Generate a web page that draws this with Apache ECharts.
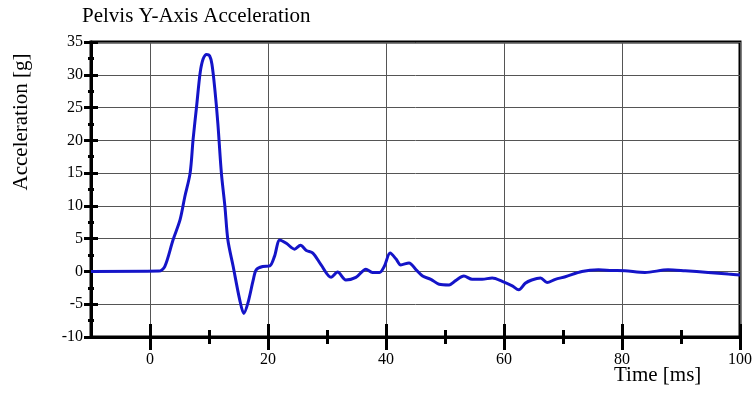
<!DOCTYPE html>
<html><head><meta charset="utf-8">
<script src="https://cdn.jsdelivr.net/npm/echarts@6/dist/echarts.min.js"></script>
<style>html,body{margin:0;padding:0;background:#fff}#c{width:755px;height:394px}</style>
</head><body><div id="c"></div>
<script>
const chartTitle = 'Pelvis Y-Axis Acceleration';
const xName = 'Time [ms]';
const yName = 'Acceleration [g]';
const times = [-10, 1.5, 2.5, 3.9, 5.1, 5.9, 6.8, 7.3, 7.9, 8.5, 9.0, 9.6, 10.1, 10.5, 11.0, 11.5, 12.1, 12.7, 13.2, 14.1, 15.2, 15.9, 16.6, 17.5, 18.0, 19.1, 20.3, 21.1, 22.0, 23.1, 24.5, 25.5, 26.5, 27.6, 29.0, 30.7, 31.8, 33.2, 34.9, 36.6, 37.7, 38.9, 39.7, 40.7, 41.7, 42.5, 43.9, 45.1, 46.2, 47.6, 49.0, 50.7, 51.8, 53.2, 54.6, 56.3, 58.0, 59.7, 61.4, 62.5, 63.6, 64.7, 66.2, 67.3, 68.7, 70.4, 73.2, 76.0, 78.3, 80.5, 83.9, 87.8, 90.7, 94.6, 98.0, 100];
const accel = [0, 0.05, 0.75, 4.8, 7.9, 11.4, 15.0, 20.1, 25.2, 30.3, 32.4, 33.1, 32.9, 31.6, 27.7, 22.6, 15.0, 9.9, 4.8, 0.75, -4.3, -6.4, -4.8, -1.3, 0.25, 0.75, 0.85, 2.3, 4.8, 4.3, 3.4, 4.0, 3.2, 2.8, 1.0, -0.9, -0.1, -1.3, -0.9, 0.35, -0.15, -0.15, 0.75, 2.8, 1.9, 1.0, 1.3, 0.25, -0.7, -1.2, -1.95, -2.05, -1.4, -0.7, -1.2, -1.2, -1.0, -1.5, -2.2, -2.8, -1.8, -1.3, -1.0, -1.7, -1.2, -0.8, 0.0, 0.25, 0.15, 0.1, -0.15, 0.25, 0.1, -0.15, -0.4, -0.55];
const xMajorTicks = [0, 20, 40, 60, 80, 100];
const xMinorTicks = [10, 30, 50, 70, 90];
const yTickStep = 5;

const serif = 'Liberation Serif, Times New Roman, serif';
const black = '#000';
const chart = echarts.init(document.getElementById('c'), null, {renderer: 'canvas'});
const xBase = {type: 'value', min: -10, max: 100, position: 'bottom', gridIndex: 0};
const yBase = {type: 'value', min: -10, max: 35, interval: yTickStep, position: 'left', gridIndex: 0};
const hiddenLine = {show: false, onZero: false};

chart.setOption({
  animation: false,
  backgroundColor: '#fff',
  title: [
    {text: chartTitle, left: 82, top: 6, padding: 0,
     textStyle: {fontFamily: serif, fontSize: 21, fontWeight: 'normal', color: black}},
    {text: xName, left: 614, top: 365, padding: 0,
     textStyle: {fontFamily: serif, fontSize: 21, fontWeight: 'normal', color: black}}
  ],
  graphic: [{
    type: 'text', x: 21, y: 122, rotation: Math.PI / 2,
    style: {text: yName, font: '21px ' + serif, fill: black, align: 'center', verticalAlign: 'middle'}
  }],
  grid: {left: 91, right: 14, top: 42, bottom: 57, show: true, borderColor: black, borderWidth: 3, backgroundColor: 'transparent'},
  xAxis: [
    Object.assign({}, xBase, {
      axisLine: {show: true, onZero: false, lineStyle: {color: black, width: 3}},
      axisTick: {show: true, customValues: xMajorTicks, length: 13, lineStyle: {color: black, width: 3}},
      axisLabel: {show: true, customValues: xMajorTicks, margin: 15, fontFamily: serif, fontSize: 16, color: black},
      splitLine: {show: true, lineStyle: {color: '#555', width: 1}}
    }),
    Object.assign({}, xBase, {
      axisLine: hiddenLine,
      axisTick: {show: true, inside: true, customValues: xMajorTicks, length: 13, lineStyle: {color: black, width: 3}},
      axisLabel: {show: false}, splitLine: {show: false}
    }),
    Object.assign({}, xBase, {
      axisLine: hiddenLine,
      axisTick: {show: true, customValues: xMinorTicks, length: 7, lineStyle: {color: black, width: 3}},
      axisLabel: {show: false}, splitLine: {show: false}
    }),
    Object.assign({}, xBase, {
      axisLine: hiddenLine,
      axisTick: {show: true, inside: true, customValues: xMinorTicks, length: 7, lineStyle: {color: black, width: 3}},
      axisLabel: {show: false}, splitLine: {show: false}
    })
  ],
  yAxis: [
    Object.assign({}, yBase, {
      axisLine: {show: true, onZero: false, lineStyle: {color: black, width: 3}},
      axisTick: {show: true, length: 7, lineStyle: {color: black, width: 3}},
      minorTick: {show: true, splitNumber: 2, length: 3, lineStyle: {color: black, width: 3}},
      axisLabel: {show: true, margin: 8, fontFamily: serif, fontSize: 16, color: black},
      splitLine: {show: true, lineStyle: {color: '#555', width: 1}}
    }),
    Object.assign({}, yBase, {
      axisLine: hiddenLine,
      axisTick: {show: true, inside: true, length: 7, lineStyle: {color: black, width: 3}},
      minorTick: {show: true, splitNumber: 2, length: 3, lineStyle: {color: black, width: 3}},
      axisLabel: {show: false}, splitLine: {show: false}
    })
  ],
  series: [{
    type: 'line',
    xAxisIndex: 0, yAxisIndex: 0,
    data: times.map((t, i) => [t, accel[i]]),
    showSymbol: false,
    smooth: 0.3,
    lineStyle: {color: '#1414c8', width: 3},
    z: 3
  }]
});
</script>
</body></html>
